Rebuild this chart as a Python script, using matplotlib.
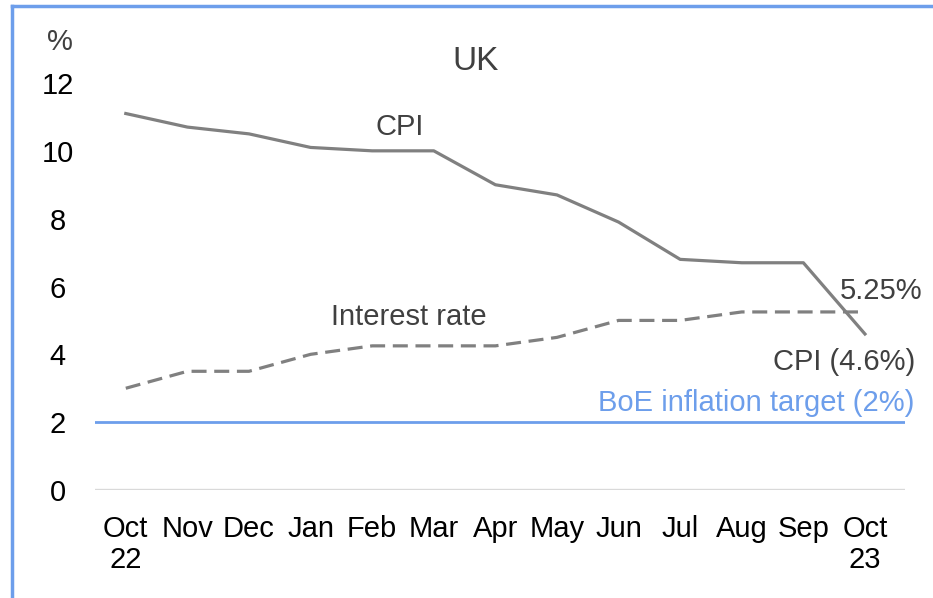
import matplotlib
matplotlib.use("Agg")
import matplotlib.pyplot as plt
from matplotlib.lines import Line2D

plt.rcParams['font.family'] = ['Liberation Sans Narrow', 'Liberation Sans', 'DejaVu Sans']

# data
months = ['Oct\n22', 'Nov', 'Dec', 'Jan', 'Feb', 'Mar', 'Apr', 'May', 'Jun', 'Jul', 'Aug', 'Sep', 'Oct\n23']
cpi = [11.1, 10.7, 10.5, 10.1, 10.0, 10.0, 9.0, 8.7, 7.9, 6.8, 6.7, 6.7, 4.6]
rate = [3.0, 3.5, 3.5, 4.0, 4.25, 4.25, 4.25, 4.5, 5.0, 5.0, 5.25, 5.25, 5.25]
target = 2.0
yticks = [0, 2, 4, 6, 8, 10, 12]

W, H = 933, 598
fig = plt.figure(figsize=(W / 100, H / 100), dpi=100)
ax = fig.add_axes([95 / W, (H - 490) / H, 810 / W, 407 / H])

x = list(range(len(months)))
grey = '#808080'
blue = '#6d9eeb'

ax.axhline(0, color='#d9d9d9', lw=2.4, zorder=1)
ax.axhline(target, color=blue, lw=2.0, zorder=2)
ax.plot(x, cpi, color=grey, lw=2.3, zorder=3, solid_joinstyle='round')
ax.plot(x, rate, color=grey, lw=2.3, linestyle=(0, (4.7, 2.4)), zorder=3)

ax.set_xlim(-0.5, 12.65)
ax.set_ylim(0, 12)
for s in ax.spines.values():
    s.set_visible(False)
ax.set_xticks(x)
ax.set_xticklabels(months, fontsize=21, linespacing=1.15)
ax.set_yticks(yticks)
ax.set_yticklabels([str(v) for v in yticks], fontsize=21, ha='center')
ax.tick_params(axis='both', length=0)
ax.tick_params(axis='x', pad=18)
ax.tick_params(axis='y', pad=27)

dark = '#404040'
ax.text(4.45, cpi[4] + 0.3, 'CPI', fontsize=21, color=dark, ha='center', va='bottom')
ax.text(4.6, rate[5] + 0.45, 'Interest rate', fontsize=21, color=dark, ha='center', va='bottom')
ax.text(12.93, rate[-1] + 0.2, '5.25%', fontsize=21, color=dark, ha='right', va='bottom')
ax.text(12.81, cpi[-1] - 0.4, 'CPI (4.6%)', fontsize=21, color=dark, ha='right', va='top')
ax.text(12.8, target + 0.15, 'BoE inflation target (2%)', fontsize=21, color=blue, ha='right', va='bottom')

fig.text(60 / W, 1 - 42 / H, '%', fontsize=21, color=dark, ha='center', va='center')
fig.text(476 / W, 1 - 62 / H, 'UK', fontsize=24, color=dark, ha='center', va='center')

# light blue frame (left and top edges visible in the crop)
fig.add_artist(Line2D([12 / W, 12 / W], [0, 1 - 6 / H], color=blue, lw=2.5, transform=fig.transFigure))
fig.add_artist(Line2D([12 / W, 1], [1 - 6 / H, 1 - 6 / H], color=blue, lw=2.5, transform=fig.transFigure))

fig.savefig('out.png', dpi=100)
